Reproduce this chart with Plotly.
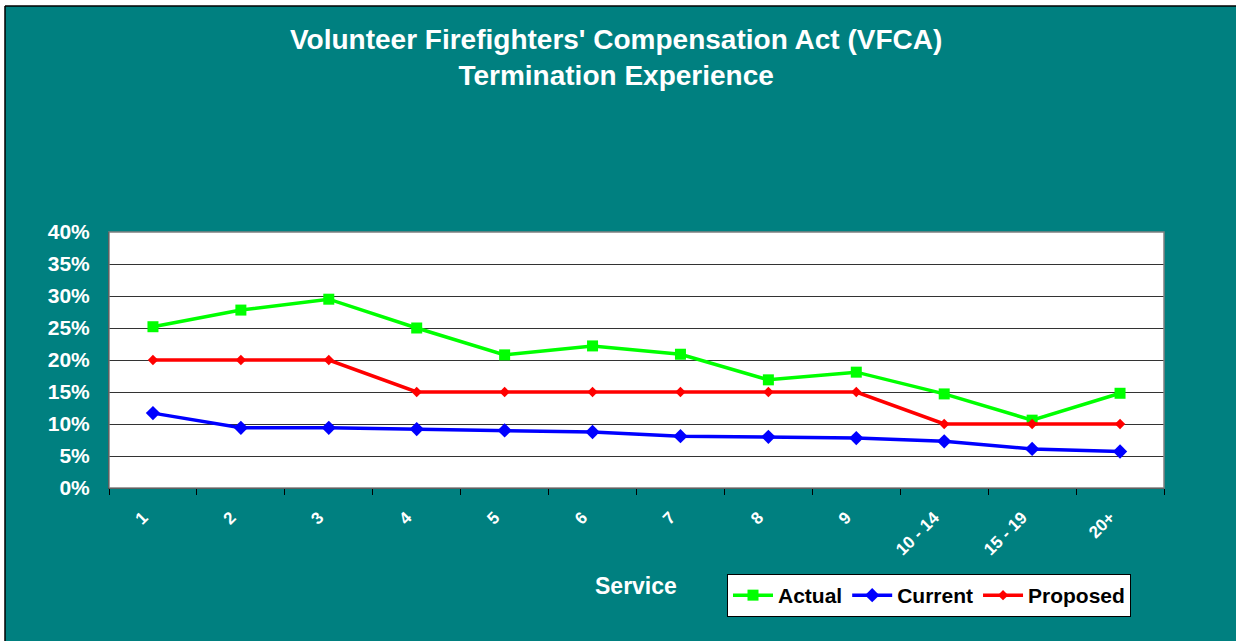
import plotly.graph_objects as go

# chart data
service = ["1", "2", "3", "4", "5", "6", "7", "8", "9", "10 - 14", "15 - 19", "20+"]
actual = [0.252, 0.278, 0.295, 0.250, 0.208, 0.222, 0.209, 0.169, 0.181, 0.147, 0.106, 0.148]
current = [0.117, 0.094, 0.094, 0.092, 0.090, 0.0875, 0.081, 0.080, 0.078, 0.073, 0.061, 0.057]
proposed = [0.20, 0.20, 0.20, 0.15, 0.15, 0.15, 0.15, 0.15, 0.15, 0.10, 0.10, 0.10]

W, H = 1236, 641
L, R, T, B = 109, 72, 232, 153
TEAL = "#008080"
FONT = "Liberation Sans, Arial, sans-serif"


def px_x(p):
    return (p - L) / (W - L - R)


def px_y(p):
    return 1 - (p - T) / (H - T - B)


fig = go.Figure()
fig.add_trace(go.Scatter(x=service, y=actual, name="Actual", mode="lines+markers",
                         line=dict(color="#00ff00", width=3.5),
                         marker=dict(symbol="square", size=11, color="#00ff00")))
fig.add_trace(go.Scatter(x=service, y=current, name="Current", mode="lines+markers",
                         line=dict(color="#0000ff", width=3.5),
                         marker=dict(symbol="diamond", size=11, color="#0000ff")))
fig.add_trace(go.Scatter(x=service, y=proposed, name="Proposed", mode="lines+markers",
                         line=dict(color="#ff0000", width=3.5),
                         marker=dict(symbol="diamond", size=8, color="#ff0000")))

fig.update_layout(
    width=W, height=H,
    margin=dict(l=L, r=R, t=T, b=B),
    paper_bgcolor=TEAL,
    plot_bgcolor="white",
    font=dict(family=FONT, color="white"),
    showlegend=True,
    legend=dict(orientation="h", x=px_x(727), y=px_y(574), xanchor="left", yanchor="top",
                bgcolor="white", bordercolor="black", borderwidth=1,
                font=dict(size=21, color="black", family=FONT, weight="bold"),
                itemwidth=40, tracegroupgap=0),
)

fig.update_xaxes(type="category", range=[-0.5, len(service) - 0.5],
                 tickson="boundaries", ticks="outside", ticklen=6,
                 tickcolor="black", showline=True, linecolor="black", linewidth=1,
                 mirror=False, showgrid=False, tickangle=-45,
                 ticklabelstandoff=12, ticklabelshift=-10,
                 tickfont=dict(size=17, color="white", family=FONT, weight="bold"))
fig.update_yaxes(range=[0, 0.40], dtick=0.05, tickformat=".0%", showgrid=True,
                 gridcolor="#333333", gridwidth=1, showline=True, linecolor="black",
                 ticks="", zeroline=False, ticklabelstandoff=14,
                 tickfont=dict(size=21, color="white", family=FONT, weight="bold"))

# plot frame on the other sides
fig.add_shape(type="rect", xref="paper", yref="paper", x0=0, x1=1, y0=0, y1=1,
              line=dict(color="#808080", width=1.5), layer="above")

# title
fig.add_annotation(text="<b>Volunteer Firefighters' Compensation Act (VFCA)<br>Termination Experience</b>",
                   xref="paper", yref="paper", x=px_x(616), y=px_y(57),
                   xanchor="center", yanchor="middle", showarrow=False,
                   font=dict(size=28, color="white", family=FONT))

# x axis title
fig.add_annotation(text="<b>Service</b>", xref="paper", yref="paper",
                   x=px_x(636), y=px_y(586), xanchor="center", yanchor="middle",
                   showarrow=False, font=dict(size=23, color="white", family=FONT))

# outer chart border (white margin top and left, black frame)
fig.add_shape(type="rect", xref="paper", yref="paper", x0=px_x(-5), x1=px_x(W + 5),
              y0=px_y(6), y1=px_y(-5), fillcolor="white", line=dict(width=0))
fig.add_shape(type="rect", xref="paper", yref="paper", x0=px_x(-5), x1=px_x(5),
              y0=px_y(H + 5), y1=px_y(-5), fillcolor="white", line=dict(width=0))
fig.add_shape(type="line", xref="paper", yref="paper", x0=px_x(5), x1=px_x(W + 5),
              y0=px_y(6), y1=px_y(6), line=dict(color="black", width=1.5))
fig.add_shape(type="line", xref="paper", yref="paper", x0=px_x(5), x1=px_x(5),
              y0=px_y(6), y1=px_y(H + 5), line=dict(color="black", width=1.5))

fig.write_html("out.html", config={"displayModeBar": False},
               post_script="document.body.style.margin='0';document.body.style.overflow='hidden';")
